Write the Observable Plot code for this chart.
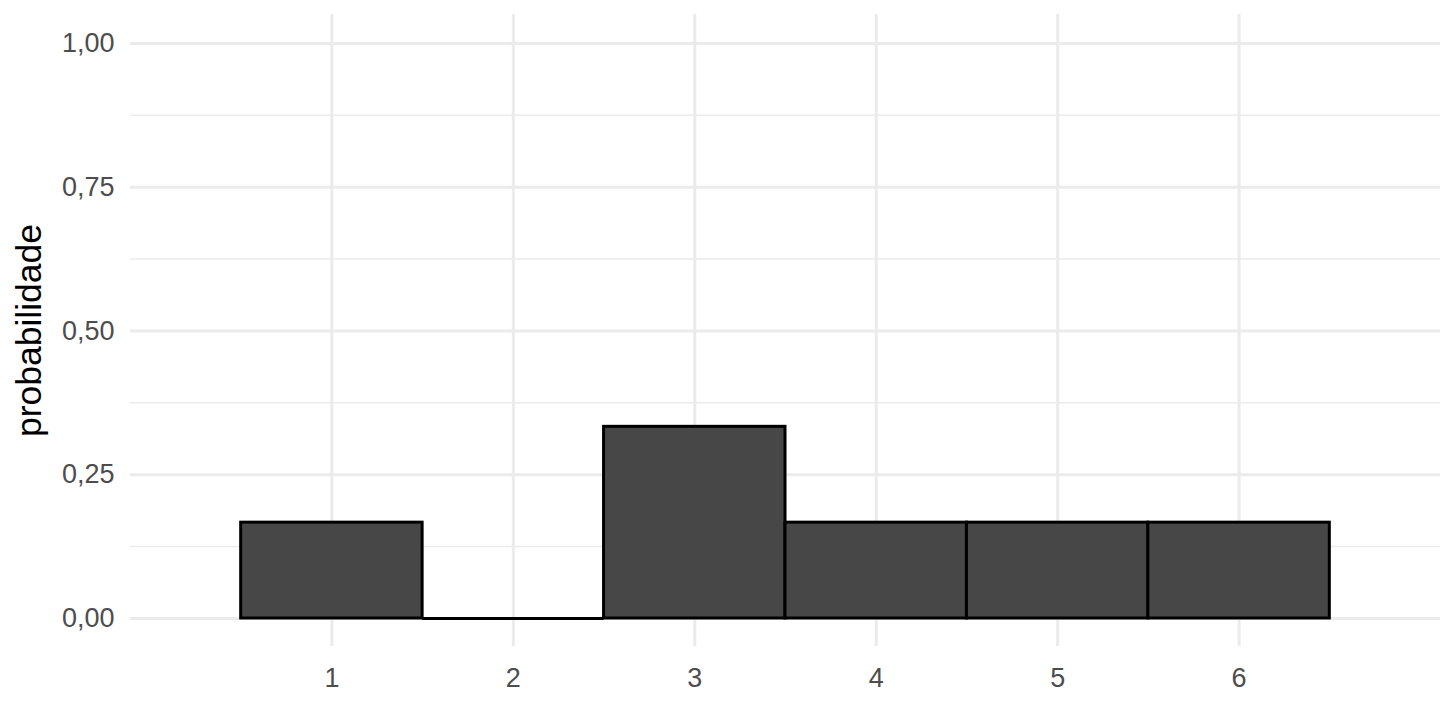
<!DOCTYPE html>
<html>
<head>
<meta charset="utf-8">
<script src="https://cdn.jsdelivr.net/npm/d3@7"></script>
<script src="https://cdn.jsdelivr.net/npm/@observablehq/plot@0.6"></script>
<style>
  html, body { margin: 0; padding: 0; background: #fff; }
  #chart svg { font-family: "Liberation Sans", Arial, Helvetica, sans-serif; }
</style>
</head>
<body>
<div id="chart"></div>
<script>
const faces = [1, 2, 3, 4, 5, 6];
const probabilities = [1/6, 0, 1/3, 1/6, 1/6, 1/6];
const yMajorTicks = [0, 0.25, 0.5, 0.75, 1];
const yMinorTicks = [0.125, 0.375, 0.625, 0.875];
const xTicks = [1, 2, 3, 4, 5, 6];
const yTitle = "probabilidade";

const bars = faces.map((f, i) => ({face: f, p: probabilities[i]}));
const fmt = v => d3.format(".2f")(v).replace(".", ",");

const chart = Plot.plot({
  width: 1456,
  height: 720,
  marginTop: 14,
  marginBottom: 74,
  marginLeft: 130,
  marginRight: 16,
  x: {domain: [-0.11, 7.11]},
  y: {domain: [-0.0487, 1.0504]},
  style: {fontFamily: '"Liberation Sans", Arial, Helvetica, sans-serif', background: "#fff"},
  marks: [
    Plot.ruleY(yMinorTicks, {stroke: "#ebebeb", strokeWidth: 1.5}),
    Plot.ruleY(yMajorTicks, {stroke: "#ebebeb", strokeWidth: 3}),
    Plot.ruleX(xTicks, {stroke: "#ebebeb", strokeWidth: 3}),
    Plot.rectY(bars, {
      x1: d => d.face - 0.5,
      x2: d => d.face + 0.5,
      y1: 0,
      y2: "p",
      fill: "#474747",
      stroke: "#000",
      strokeWidth: 3,
      inset: 0
    }),
    // zero-height bars still show their outline as a flat line
    Plot.ruleY(bars.filter(d => d.p === 0), {
      y: "p",
      x1: d => d.face - 0.5,
      x2: d => d.face + 0.5,
      stroke: "#000",
      strokeWidth: 3
    }),
    Plot.axisY(yMajorTicks, {
      tickSize: 0,
      tickPadding: 16,
      tickFormat: fmt,
      fontSize: 27,
      color: "#4d4d4d",
      label: null
    }),
    Plot.axisX(xTicks, {
      tickSize: 0,
      tickPadding: 21,
      tickFormat: d => String(d),
      fontSize: 27,
      color: "#4d4d4d",
      label: null
    }),
    Plot.text([yTitle], {
      frameAnchor: "left",
      textAnchor: "middle",
      lineAnchor: "middle",
      rotate: -90,
      dx: -101,
      fontSize: 35.5,
      fill: "#000",
      text: d => d
    })
  ]
});
document.getElementById("chart").appendChild(chart);
</script>
</body>
</html>
